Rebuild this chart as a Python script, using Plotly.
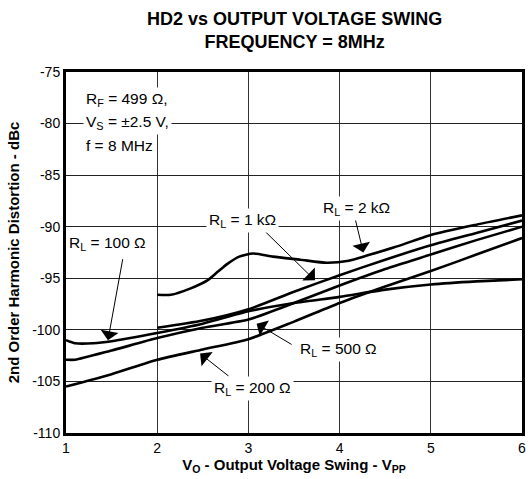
import plotly.graph_objects as go

# ---- data ----
x_100 = [1.0, 1.1, 1.3, 1.5, 2.0, 2.5, 3.0, 3.5, 4.0, 4.5, 5.0, 5.5, 6.0]
y_100 = [-101.0, -101.3, -101.3, -101.1, -100.3, -99.4, -98.2, -97.4, -96.8, -96.1, -95.6, -95.3, -95.1]

x_200 = [1.0, 1.5, 2.0, 2.5, 3.0, 3.5, 4.0, 4.5, 5.0, 5.5, 6.0]
y_200 = [-105.5, -104.3, -102.9, -101.9, -100.9, -99.2, -97.4, -95.8, -94.3, -92.7, -91.1]

x_500 = [1.0, 1.1, 1.5, 2.0, 2.5, 3.0, 3.5, 4.0, 4.5, 5.0, 5.5, 6.0]
y_500 = [-102.9, -102.9, -102.0, -100.8, -99.8, -99.0, -97.4, -95.7, -94.1, -92.7, -91.3, -90.0]

x_1k = [2.0, 2.5, 3.0, 3.5, 4.0, 4.5, 5.0, 5.5, 6.0]
y_1k = [-99.8, -99.1, -98.0, -96.3, -94.7, -93.2, -91.8, -90.6, -89.4]

x_2k = [2.0, 2.15, 2.36, 2.55, 2.66, 2.77, 2.9, 3.05, 3.27, 3.57, 3.86, 4.1, 4.3, 4.6, 5.0, 5.5, 6.0]
y_2k = [-96.6, -96.6, -96.0, -95.2, -94.4, -93.6, -92.9, -92.6, -92.9, -93.2, -93.5, -93.3, -92.8, -92.0, -90.8, -89.8, -88.9]

x_ticks = [1, 2, 3, 4, 5, 6]
x_tick_labels = ["1", "2", "3", "4", "5", "6"]
y_ticks = [-110, -105, -100, -95, -90, -85, -80, -75]
y_tick_labels = ["-110", "-105", "-100", "-95", "-90", "-85", "-80", "-75"]

FONT = "Arial, Liberation Sans, Helvetica, sans-serif"

fig = go.Figure()
for xs, ys in [(x_100, y_100), (x_200, y_200), (x_500, y_500), (x_1k, y_1k), (x_2k, y_2k)]:
    fig.add_trace(go.Scatter(x=xs, y=ys, mode="lines",
                             line=dict(color="black", width=2.6, shape="spline", smoothing=0.6),
                             showlegend=False, hoverinfo="skip"))

anns = []
# arrows (tail -> tip)
arrows = [
    ((1.625, -93.0), (1.46, -101.0)),   # 100
    ((3.13, -90.0), (3.73, -95.2)),     # 1k
    ((4.17, -89.2), (4.26, -92.5)),     # 2k
    ((3.49, -101.5), (3.09, -99.4)),    # 500
    ((2.80, -104.6), (2.47, -102.3)),   # 200
]
for (tx, ty), (hx, hy) in arrows:
    anns.append(dict(x=hx, y=hy, ax=tx, ay=ty, xref="x", yref="y", axref="x", ayref="y",
                     text="", showarrow=True, arrowhead=1, arrowsize=3, arrowwidth=1,
                     arrowcolor="black", standoff=0, startstandoff=0))

labels = [
    ("R<sub>L</sub> = 100 Ω", 1.46, -91.6),
    ("R<sub>L</sub> = 1 kΩ", 2.94, -89.4),
    ("R<sub>L</sub> = 2 kΩ", 4.19, -88.2),
    ("R<sub>L</sub> = 500 Ω", 3.99, -101.9),
    ("R<sub>L</sub> = 200 Ω", 3.04, -105.7),
]
for t, x, y in labels:
    anns.append(dict(x=x, y=y, xref="x", yref="y", text=t, showarrow=False,
                     font=dict(family=FONT, size=15.5, color="black"),
                     bgcolor="white", borderpad=2, xanchor="center", yanchor="middle"))

cond = [("R<sub>F</sub> = 499 Ω,", -77.7), ("V<sub>S</sub> = ±2.5 V,", -79.85), ("f = 8 MHz", -82.1)]
for t, y in cond:
    anns.append(dict(x=1.19, y=y, xref="x", yref="y", text=t, showarrow=False,
                     font=dict(family=FONT, size=15.5, color="black"),
                     bgcolor="white", borderpad=2, xanchor="left", yanchor="middle"))

# chart title
anns.append(dict(x=0.5, y=1.18, xref="paper", yref="paper", xanchor="center", yanchor="top",
                 text="<b>HD2 vs OUTPUT VOLTAGE SWING<br>FREQUENCY = 8MHz</b>", showarrow=False,
                 font=dict(family=FONT, size=18, color="black")))

fig.update_layout(
    width=528, height=479,
    margin=dict(l=66, r=6, t=72, b=46),
    paper_bgcolor="white", plot_bgcolor="white",
    font=dict(family=FONT, size=14, color="black"),
    annotations=anns,
)
fig.update_xaxes(range=[1, 6], tickvals=x_ticks, ticktext=x_tick_labels,
                 showgrid=True, gridcolor="#333", gridwidth=1,
                 showline=True, linecolor="black", linewidth=3, mirror=True,
                 ticks="", zeroline=False, tickfont=dict(size=14), automargin=False,
                 ticklabeloverflow="allow",
                 title=dict(text="<b>V<sub>O</sub> - Output Voltage Swing - V<sub>PP</sub></b>",
                            font=dict(size=15), standoff=3))
fig.update_yaxes(range=[-110, -75], tickvals=y_ticks, ticktext=y_tick_labels,
                 showgrid=True, gridcolor="#222", gridwidth=1,
                 showline=True, linecolor="black", linewidth=3, mirror=True,
                 ticks="", zeroline=False, tickfont=dict(size=14), automargin=False,
                 title=dict(text="<b>2nd Order Harmonic Distortion - dBc</b>",
                            font=dict(size=15), standoff=9))

fig.write_html("out.html", config={"displayModeBar": False},
               post_script="document.body.style.margin='0';")
